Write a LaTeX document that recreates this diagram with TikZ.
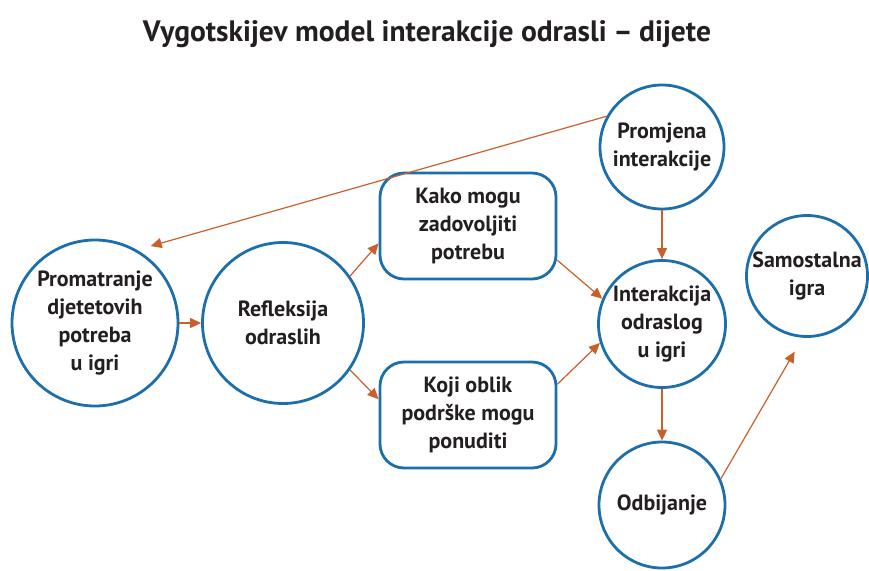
\documentclass[tikz,border=0pt]{standalone}
\usepackage{fontspec}
\setmainfont{PT Sans}
\usetikzlibrary{arrows.meta,calc}
\definecolor{nodeblue}{HTML}{1D6FAB}
\definecolor{arrorange}{HTML}{C95F2B}
\definecolor{txt}{HTML}{231F20}
\tikzset{
  circnode/.style={circle,draw=nodeblue,line width=2.8pt,fill=white,inner sep=0pt,align=center,
    font=\fontsize{22}{28}\selectfont\bfseries,text=txt},
  boxnode/.style={rectangle,rounded corners=24pt,draw=nodeblue,line width=2.8pt,fill=white,align=center,
    minimum width=176pt,minimum height=106pt,inner sep=0pt,
    font=\fontsize{22}{28}\selectfont\bfseries,text=txt},
  arr/.style={draw=arrorange,line width=1.2pt,-{Triangle[length=11pt,width=10pt,fill=arrorange]}},
}
\begin{document}
\begin{tikzpicture}[x=1pt,y=-1pt]
\useasboundingbox (0,0) rectangle (869,570);
\node[font=\fontsize{29.5}{32}\selectfont\bfseries,text=txt,anchor=base] (title) at (427,41) {Vygotskijev model interakcije odrasli\hspace{0.22em}–\hspace{0.22em}dijete};
\node[circnode,minimum size=166pt] (prom) at (95,323) {Promatranje\\djetetovih\\potreba\\u igri};
\node[circnode,minimum size=161pt] (refl) at (283,323) {Refleksija\\odraslih};
\node[boxnode] (kako) at (468,226) {Kako mogu\\zadovoljiti\\potrebu};
\node[boxnode] (koji) at (468,415) {Koji oblik\\podrške mogu\\ponuditi};
\node[circnode,minimum size=124pt] (promj) at (662,147) {Promjena\\interakcije};
\node[circnode,minimum size=127pt] (inter) at (662,324) {Interakcija\\odraslog\\u igri};
\node[circnode,minimum size=126pt] (odb) at (662,505) {Odbijanje};
\node[circnode,minimum size=121pt] (samo) at (807,276) {Samostalna\\igra};
\draw[arr,shorten >=14pt] (promj.151) -- (prom.60);
\draw[arr] (prom.east) -- (refl.west);
\draw[arr] (refl.35) -- (kako.191);
\draw[arr] (refl.325) -- (koji.170);
\draw[arr] (kako.339) -- (inter.157);
\draw[arr] (koji.19) -- (inter.197);
\draw[arr] (promj.south) -- (inter.north);
\draw[arr] (inter.south) -- (odb.north);
\draw[arr,shorten >=16pt] (odb.24) -- (samo.266);
\end{tikzpicture}
\end{document}
